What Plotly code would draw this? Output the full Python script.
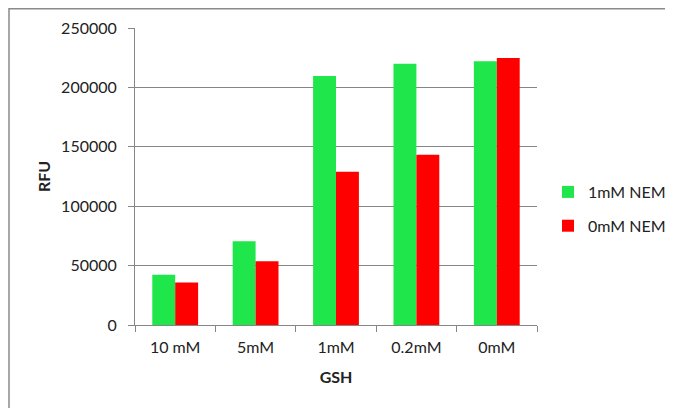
import plotly.graph_objects as go

categories = ["10 mM", "5mM", "1mM", "0.2mM", "0mM"]
nem1_values = [42400, 70500, 209600, 220000, 222000]
nem0_values = [35700, 53600, 129100, 143400, 224700]
series_names = ["1mM NEM", "0mM NEM"]
y_ticks = [0, 50000, 100000, 150000, 200000, 250000]

FONT = "Lato"
AX = "#868686"
TXT = "#222222"

fig = go.Figure()
fig.add_trace(go.Bar(x=categories, y=nem1_values, name=series_names[0], legendgroup="g1",
                     marker=dict(color="#1EE64B", line=dict(width=0))))
fig.add_trace(go.Bar(x=categories, y=nem0_values, name=series_names[1], legendgroup="g2",
                     marker=dict(color="#FF0000", line=dict(width=0))))

# page has an 8px body margin; figure is sized to fit the window
OFF = 8
W, H = 665, 400
L, T = 135 - OFF, 28 - OFF
R = W - (537 - OFF)
B = H - (325 - OFF)
pw, ph = W - L - R, H - T - B

fig.update_layout(
    width=W, height=H,
    margin=dict(l=L, r=R, t=T, b=B, pad=0, autoexpand=False),
    paper_bgcolor="white", plot_bgcolor="white",
    barmode="group", bargap=0.43, bargroupgap=0,
    font=dict(family=FONT, size=16, color=TXT),
    legend=dict(xref="container", yref="container",
                x=(548 - OFF) / W, y=1 - (209 - OFF) / H, xanchor="left", yanchor="middle",
                font=dict(family=FONT, size=16, color=TXT),
                itemwidth=30, tracegroupgap=10, bgcolor="rgba(0,0,0,0)"),
    xaxis=dict(
        automargin=False,
        showline=True, linecolor=AX, linewidth=1,
        ticks="outside", tickson="boundaries", ticklen=6, tickcolor=AX,
        ticklabelstandoff=8,
        title=dict(text="<b>GSH</b>", font=dict(family=FONT, size=16, color=TXT), standoff=16),
        showgrid=False,
    ),
    yaxis=dict(
        automargin=False,
        range=[0, 250000], tickvals=y_ticks,
        ticktext=[str(v) for v in y_ticks],
        showline=True, linecolor=AX, linewidth=1,
        ticks="outside", ticklen=6, tickcolor=AX,
        ticklabelstandoff=8,
        showgrid=True, gridcolor=AX, gridwidth=1,
        zeroline=False,
        title=dict(text="<b>RFU</b>", font=dict(family=FONT, size=16, color=TXT), standoff=6),
    ),
    showlegend=True,
)

# outer chart border (partially clipped like the reference)
bx0, by0 = 9 - OFF, 0.75
fig.add_shape(type="rect", xref="paper", yref="paper",
              x0=(bx0 - L) / pw, x1=(W + 10 - L) / pw,
              y0=(H - B - (H + 10)) / ph, y1=(H - B - by0) / ph,
              line=dict(color="#8a8a8a", width=1.5), layer="below")

fig.write_html("out.html")
